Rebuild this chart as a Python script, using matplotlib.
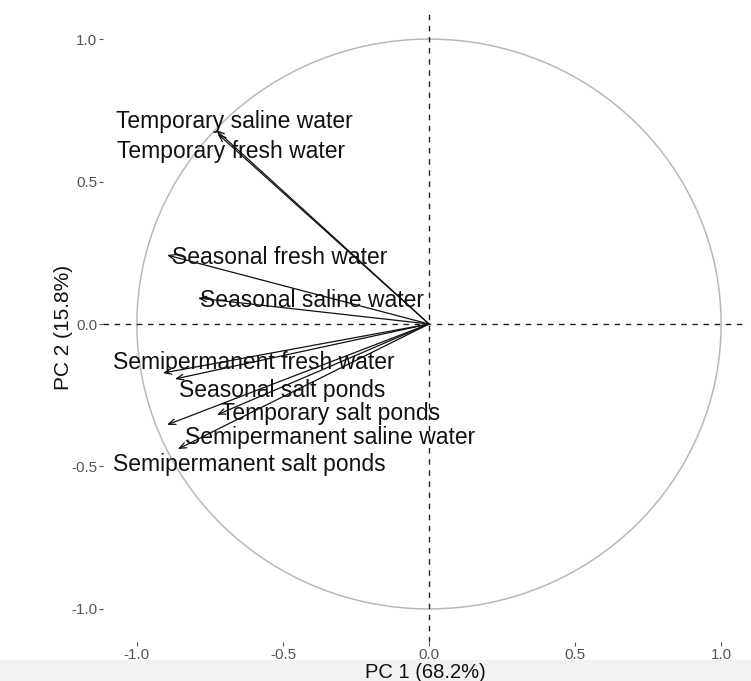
import matplotlib
matplotlib.use("Agg")
import matplotlib.pyplot as plt
from matplotlib.patches import Circle, Rectangle

# variable loadings on PC1 / PC2
variables = [
    "Temporary saline water",
    "Temporary fresh water",
    "Seasonal fresh water",
    "Seasonal saline water",
    "Semipermanent fresh water",
    "Seasonal salt ponds",
    "Temporary salt ponds",
    "Semipermanent saline water",
    "Semipermanent salt ponds",
]
pc1 = [-0.729, -0.723, -0.897, -0.791, -0.911, -0.870, -0.726, -0.897, -0.860]
pc2 = [0.681, 0.667, 0.242, 0.091, -0.172, -0.193, -0.319, -0.354, -0.439]

x_ticks = [-1.0, -0.5, 0.0, 0.5, 1.0]
y_ticks = [-1.0, -0.5, 0.0, 0.5, 1.0]

# label placement (repel-like), offset of text centre from arrow tip in pixels
label_offsets = [(18, 8), (13, -18), (113, -2), (114, -2), (91, 11),
                 (107, -11), (114, 1), (163, -13), (72, -15)]

plt.rcParams['font.family'] = ['Liberation Sans', 'DejaVu Sans']

fig = plt.figure(figsize=(7.51, 6.81), dpi=100)
fig.patches.append(Rectangle((0, 0), 1, 21 / 681, transform=fig.transFigure,
                             color='#f2f2f2', zorder=-10))
ax = fig.add_axes([103 / 751, 39 / 681, 645 / 751, 630 / 681])
ax.set_xlim(-1.116, 1.092)
ax.set_ylim(-1.116, 1.095)

# correlation circle
ax.add_patch(Circle((0, 0), 1.0, fill=False, edgecolor='#b8b8b8', lw=1.1))

ax.axhline(0, color='#222222', lw=1.0, ls=(0, (4, 4)))
ax.axvline(0, color='#222222', lw=1.0, ls=(0, (4, 4)))

for name, x, y, off in zip(variables, pc1, pc2, label_offsets):
    ax.annotate('', xy=(x, y), xytext=(0, 0),
                arrowprops=dict(arrowstyle='->,head_length=0.5,head_width=0.2',
                                color='#111111', lw=0.9, shrinkA=0, shrinkB=0))
    ax.annotate(name, xy=(x, y), xytext=off, textcoords='offset pixels',
                ha='center', va='center', fontsize=16.5, color='#111111')

for s in ax.spines.values():
    s.set_visible(False)
ax.set_xticks(x_ticks)
ax.set_yticks(y_ticks)
ax.set_xticklabels([f"{v:.1f}" for v in x_ticks])
ax.set_yticklabels([f"{v:.1f}" for v in y_ticks])
ax.tick_params(axis='both', length=3, width=0.8, color='#555555',
               labelcolor='#555555', labelsize=11, pad=1)

ax.set_xlabel("PC 1 (68.2%)", fontsize=14.5, color='#111111', labelpad=1)
ax.set_ylabel("PC 2 (15.8%)", fontsize=15, color='#111111', labelpad=-1.5)

fig.savefig("out.png", dpi=100)
